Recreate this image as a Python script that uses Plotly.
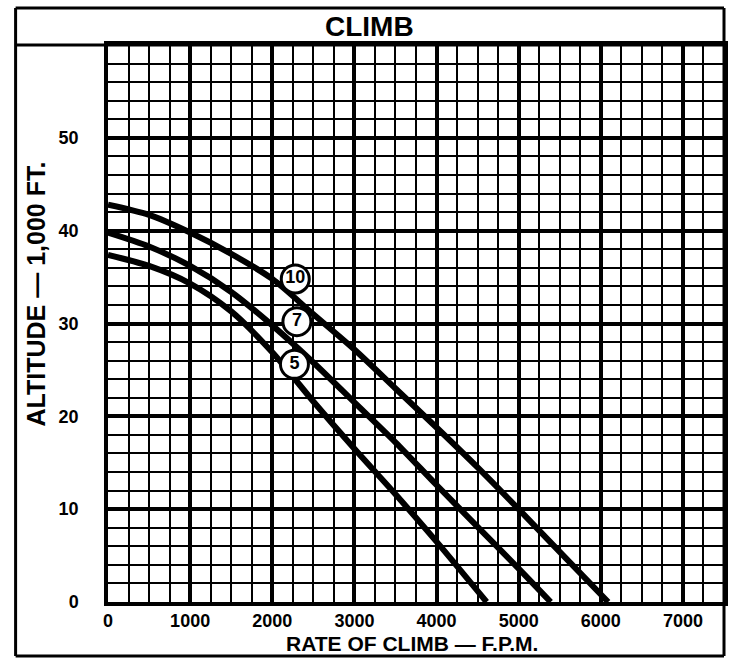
import plotly.graph_objects as go

# Rate of climb (F.P.M.) vs altitude (1,000 ft) for the three curves
rate_10 = [0, 500, 1000, 1500, 2000, 2500, 3000, 3500, 4000, 4500, 5000, 5500, 6090]
alt_10 = [42.8, 41.7, 39.8, 37.5, 34.8, 31.0, 27.2, 23.0, 18.8, 14.5, 10.0, 5.4, 0]
rate_7 = [0, 500, 1000, 1500, 2000, 2500, 3000, 3500, 4000, 4500, 5000, 5390]
alt_7 = [39.8, 38.3, 36.2, 33.4, 29.8, 25.8, 21.5, 17.2, 12.6, 8.1, 3.6, 0]
rate_5 = [0, 500, 1000, 1500, 2000, 2500, 3000, 3500, 4000, 4610]
alt_5 = [37.4, 36.2, 34.3, 31.3, 26.9, 21.6, 16.5, 11.6, 6.5, 0]

curve_labels = ["10", "7", "5"]
label_rate = [2280, 2300, 2270]
label_alt = [34.8, 30.2, 25.6]

x_ticks = [0, 1000, 2000, 3000, 4000, 5000, 6000, 7000]
y_ticks = [0, 10, 20, 30, 40, 50]

FONT = "Liberation Sans, Arial, sans-serif"

fig = go.Figure()
for xs, ys in [(rate_10, alt_10), (rate_7, alt_7), (rate_5, alt_5)]:
    fig.add_trace(go.Scatter(x=xs, y=ys, mode="lines",
                             line=dict(color="black", width=6, shape="spline", smoothing=0.8),
                             hoverinfo="skip", showlegend=False))

fig.add_trace(go.Scatter(x=label_rate, y=label_alt, mode="markers+text",
                         text=curve_labels, textposition="middle center",
                         textfont=dict(family=FONT, size=18, color="black", weight="bold"),
                         marker=dict(size=28, color="white", line=dict(color="black", width=3)),
                         hoverinfo="skip", showlegend=False))

fig.update_layout(
    width=731, height=663,
    margin=dict(l=108, r=3, t=45, b=61),
    paper_bgcolor="white", plot_bgcolor="white",
    font=dict(family=FONT, color="black"),
    hovermode=False,
    xaxis=dict(range=[0, 7500], tickvals=x_ticks, ticktext=[str(v) for v in x_ticks],
               showgrid=True, gridcolor="black", gridwidth=3.5,
               minor=dict(dtick=250, showgrid=True, gridcolor="black", gridwidth=2),
               showline=True, linecolor="black", linewidth=3.5, mirror=True,
               zeroline=False, ticks="",
               tickfont=dict(family=FONT, size=18, color="black", weight="bold")),
    yaxis=dict(range=[0, 60], tickvals=y_ticks, ticktext=[str(v) for v in y_ticks],
               showgrid=True, gridcolor="black", gridwidth=3.5,
               minor=dict(dtick=2, showgrid=True, gridcolor="black", gridwidth=2),
               showline=True, linecolor="black", linewidth=3.5, mirror=True,
               zeroline=False, ticks="", ticklabelstandoff=22,
               tickfont=dict(family=FONT, size=18, color="black", weight="bold")),
)

# Outer frame and title bar
frame = dict(type="line", xref="paper", yref="paper", line=dict(color="black", width=3))
x0, x1 = -0.15, 1.0
y0, y1 = -0.097, 1.0664
fig.add_shape(x0=x0, x1=x1, y0=y1, y1=y1, **frame)
fig.add_shape(x0=x0, x1=x1, y0=y0, y1=y0, **frame)
fig.add_shape(x0=x0, x1=x0, y0=y0, y1=y1, **frame)
fig.add_shape(x0=x1, x1=x1, y0=y0, y1=y1, **frame)
fig.add_shape(x0=x0, x1=x1, y0=1.0, y1=1.0, **frame)

fig.add_annotation(text="CLIMB", xref="paper", yref="paper", x=0.424, y=1.033,
                   showarrow=False, xanchor="center", yanchor="middle",
                   font=dict(family=FONT, size=28, color="black", weight="bold"))
fig.add_annotation(text="RATE OF CLIMB \u2014 F.P.M.", xref="paper", yref="paper",
                   x=0.494, y=-0.074, showarrow=False, xanchor="center", yanchor="middle",
                   font=dict(family=FONT, size=21, color="black", weight="bold"))
fig.add_annotation(text="ALTITUDE\u00a0\u2014\u00a01,000\u00a0FT.", xref="paper", yref="paper",
                   x=-0.1177, y=0.553, showarrow=False, xanchor="center", yanchor="middle",
                   textangle=-90,
                   font=dict(family=FONT, size=25, color="black", weight="bold"))

fig.write_html("out.html", config={"displayModeBar": False},
               post_script="document.body.style.margin='0';")
